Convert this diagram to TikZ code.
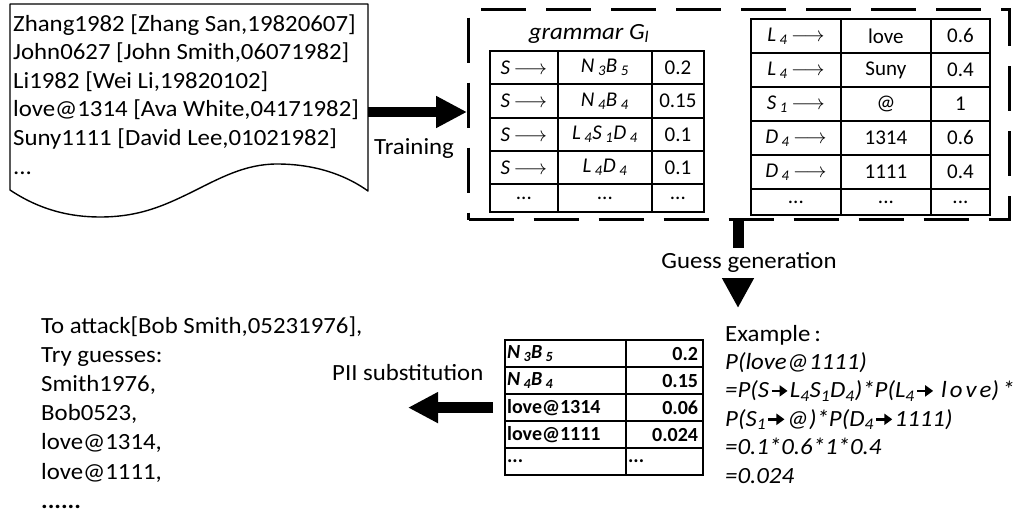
\documentclass[tikz,border=0pt]{standalone}
\usepackage{fontspec}
\setmainfont{Carlito}[FakeStretch=1.07]
\newfontfamily\plainfont{Carlito}
\usetikzlibrary{arrows.meta}

% type sizes (1pt of the picture = 1 unit)
\newcommand\mainsz{\fontsize{23.2pt}{28.7pt}\selectfont}
\newcommand\tabsz{\plainfont\fontsize{21pt}{24pt}\selectfont}
\newcommand\btabsz{\plainfont\fontsize{20pt}{22pt}\selectfont}

% heavy arrow used inside the worked example
\newcommand\heavyarr{\hspace{1pt}\tikz[baseline=-0.62ex]\draw[line width=2.8pt,-{Triangle[length=8pt,width=11pt]}](0pt,0pt)--(16pt,0pt);\hspace{1pt}}
\newcommand\thinarr{\(\longrightarrow\)}
\newcommand\lowsub[1]{\,\textsubscript{#1}}

% one table cell: name, x, y (top left), width, height, text
\newcommand\tcell[6]{\node[cellbox, minimum width=#4pt, minimum height=#5pt] (#1) at (#2,#3) {#6};}
% bottom table cells with left / right aligned text (name, x, y, text width, inner xsep, text)
\newcommand\lcell[6]{\node[bcell, text width=#4pt, inner xsep=#5pt, align=left] (#1) at (#2,#3) {#6};}
\newcommand\rcell[6]{\node[bcell, text width=#4pt, inner xsep=#5pt, align=right] (#1) at (#2,#3) {#6};}

\tikzset{
  txt/.style={inner sep=0pt, anchor=base west, font=\mainsz},
  cellbox/.style={draw, line width=1.8pt, inner sep=0pt, anchor=north west, font=\tabsz},
  bcell/.style={draw, line width=2.2pt, inner ysep=0pt, minimum height=27pt, anchor=north west, font=\btabsz\bfseries},
  fat/.style={line width=10pt, -{Triangle[length=31pt,width=30pt]}},
  gbox/.style={draw, line width=3pt, dash pattern=on 45pt off 20pt, anchor=north west, inner sep=0pt},
  docline/.style={draw, line width=1.4pt, line join=round}
}

\begin{document}
\begin{tikzpicture}[x=1pt,y=-1pt]
\useasboundingbox (0,0) rectangle (1020,514);

% training data document with wavy lower edge
\draw[docline] (10,190) -- (10,4) -- (368,4) -- (368,191)
  .. controls (350,178) and (320,164) .. (277,164)
  .. controls (245,164) and (220,178) .. (190,193)
  .. controls (165,205) and (140,217) .. (100,217)
  .. controls (70,217) and (40,210) .. (10,190) -- cycle;
\node[txt] (doc1) at (13,31) {Zhang1982 [Zhang San,19820607]};
\node[txt] (doc2) at (13,59.6) {John0627 [John Smith,06071982]};
\node[txt] (doc3) at (13,88.2) {Li1982 [Wei Li,19820102]};
\node[txt] (doc4) at (13,116.8) {love@1314 [Ava White,04171982]};
\node[txt] (doc5) at (13,145.4) {Suny1111 [David Lee,01021982]};
\node[txt] (doc6) at (13,174) {...};

% grammar box
\node[gbox, minimum width=541pt, minimum height=210pt] (gram) at (467,8) {};
\node[txt, anchor=base, font=\mainsz\itshape] (gtitle) at (589,39) {grammar G\textsubscript{l}};

% base structures S -> ...
\tcell{a11}{489}{50}{68}{33}{\textit{S}\,\thinarr}
\tcell{a12}{557}{50}{94}{33}{\textit{N\lowsub{3}B\lowsub{5}}}
\tcell{a13}{651}{50}{52}{33}{0.2}
\tcell{a21}{489}{83}{68}{34}{\textit{S}\,\thinarr}
\tcell{a22}{557}{83}{94}{34}{\textit{N\lowsub{4}B\lowsub{4}}}
\tcell{a23}{651}{83}{52}{34}{0.15}
\tcell{a31}{489}{117}{68}{33}{\textit{S}\,\thinarr}
\tcell{a32}{557}{117}{94}{33}{\textit{L\lowsub{4}S\lowsub{1}D\lowsub{4}}}
\tcell{a33}{651}{117}{52}{33}{0.1}
\tcell{a41}{489}{150}{68}{33}{\textit{S}\,\thinarr}
\tcell{a42}{557}{150}{94}{33}{\textit{L\lowsub{4}D\lowsub{4}}}
\tcell{a43}{651}{150}{52}{33}{0.1}
\tcell{a51}{489}{183}{68}{28}{...}
\tcell{a52}{557}{183}{94}{28}{...}
\tcell{a53}{651}{183}{52}{28}{...}

% terminal productions
\tcell{b11}{750}{18}{90}{34}{\textit{L\lowsub{4}}\,\thinarr}
\tcell{b12}{840}{18}{90}{34}{love}
\tcell{b13}{930}{18}{59}{34}{0.6}
\tcell{b21}{750}{52}{90}{34}{\textit{L\lowsub{4}}\,\thinarr}
\tcell{b22}{840}{52}{90}{34}{Suny}
\tcell{b23}{930}{52}{59}{34}{0.4}
\tcell{b31}{750}{86}{90}{34}{\textit{S\lowsub{1}}\,\thinarr}
\tcell{b32}{840}{86}{90}{34}{@}
\tcell{b33}{930}{86}{59}{34}{1}
\tcell{b41}{750}{120}{90}{34}{\textit{D\lowsub{4}}\,\thinarr}
\tcell{b42}{840}{120}{90}{34}{1314}
\tcell{b43}{930}{120}{59}{34}{0.6}
\tcell{b51}{750}{154}{90}{34}{\textit{D\lowsub{4}}\,\thinarr}
\tcell{b52}{840}{154}{90}{34}{1111}
\tcell{b53}{930}{154}{59}{34}{0.4}
\tcell{b61}{750}{188}{90}{26}{...}
\tcell{b62}{840}{188}{90}{26}{...}
\tcell{b63}{930}{188}{59}{26}{...}

% training arrow
\coordinate (dE) at (368,112);
\draw[fat] (dE) -- (dE -| gram.west);
\node[txt] (train) at (374,154) {Training};

% guess generation arrow with its label over the shaft
\coordinate (gtip) at (738,308);
\draw[line width=11pt, -{Triangle[length=30pt,width=30pt]}] (gram.south -| gtip) -- (gtip);
\node[txt, anchor=base, fill=white, text height=15pt, text depth=5pt, inner ysep=5pt, inner xsep=0pt] (guess) at (749,268) {Guess generation};

% guesses with probabilities
\lcell{c11}{504}{339}{117}{2}{\textit{N\lowsub{3}B\lowsub{5}}}
\rcell{c12}{625}{339}{67}{5}{0.2}
\lcell{c21}{504}{366}{117}{2}{\textit{N\lowsub{4}B\lowsub{4}}}
\rcell{c22}{625}{366}{67}{5}{0.15}
\lcell{c31}{504}{393}{117}{2}{love@1314}
\rcell{c32}{625}{393}{67}{5}{0.06}
\lcell{c41}{504}{420}{117}{2}{love@1111}
\rcell{c42}{625}{420}{67}{5}{0.024}
\lcell{c51}{504}{447}{117}{2}{...}
\lcell{c52}{625}{447}{73}{2}{...}

% worked example
\node[txt] (ex1) at (725,341) {Example\,:};
\node[txt, font=\mainsz\itshape] (ex2) at (725,369.4) {P(love@1111)};
\node[txt, font=\mainsz\itshape] (ex3) at (725,397.8) {=P(S\heavyarr L\textsubscript{4}S\textsubscript{1}D\textsubscript{4})*P(L\textsubscript{4}\heavyarr\ l\hspace{3pt}o\hspace{3pt}v\hspace{3pt}e)\hspace{3pt}*};
\node[txt, font=\mainsz\itshape] (ex4) at (725,426.2) {P(S\textsubscript{1}\heavyarr @)*P(D\textsubscript{4}\heavyarr 1111)};
\node[txt, font=\mainsz\itshape] (ex5) at (725,454.6) {=0.1*0.6*1*0.4};
\node[txt, font=\mainsz\itshape] (ex6) at (725,483) {=0.024};

% PII substitution arrow
\coordinate (ptip) at (408,406);
\draw[line width=11pt, -{Triangle[length=30pt,width=29pt]}, shorten <=11pt] (c31.west) -- (c31.west -| ptip);
\node[txt] (pii) at (332,380) {PII substitution};

% resulting guesses
\node[txt] (res1) at (41,333) {To attack[Bob Smith,05231976],};
\node[txt] (res2) at (41,362.2) {Try guesses:};
\node[txt] (res3) at (41,391.4) {Smith1976,};
\node[txt] (res4) at (41,420.6) {Bob0523,};
\node[txt] (res5) at (41,449.8) {love@1314,};
\node[txt] (res6) at (41,479) {love@1111,};
\node[txt] (res7) at (41,508) {\textbf{......}};
\end{tikzpicture}
\end{document}
